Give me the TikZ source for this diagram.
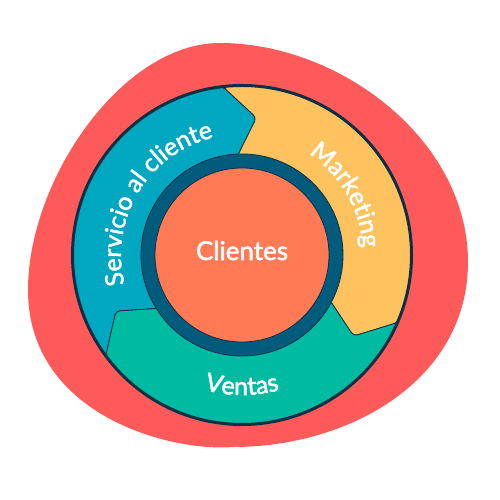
\documentclass[tikz,border=0pt]{standalone}
\usepackage{fontspec}
\setmainfont{Lato}
\newfontfamily\medfont{Lato}[FakeBold=2]
\usetikzlibrary{decorations.text}
\definecolor{blobred}{HTML}{FF5A5A}
\definecolor{segblue}{HTML}{00A7C0}
\definecolor{segyellow}{HTML}{FEC35F}
\definecolor{seggreen}{HTML}{00BBA2}
\definecolor{coreorange}{HTML}{FF7A55}
\definecolor{ringblue}{HTML}{005B7C}
\definecolor{navy}{HTML}{0B2F45}
\newcommand\segfont{\medfont\fontsize{25}{30}\selectfont}
\tikzset{
  segpiece/.style={draw=navy, line width=0.8pt, rounded corners=4pt},
  arctext/.style={decorate, decoration={text along path, text color=white, text align=center, text={|\segfont|#1}}}
}
\begin{document}
\begin{tikzpicture}[x=1pt,y=1pt]
\useasboundingbox (0,0) rectangle (500,500);
\fill[blobred] (220,457) .. controls (340,457) and (468,360) .. (468,238)
  .. controls (468,120) and (350,53) .. (233,53)
  .. controls (170,48) and (28,85) .. (28,210)
  .. controls (28,320) and (122,457) .. (220,457) -- cycle;
\begin{scope}[shift={(242,245)}]
\foreach \s/\col in {216.5/segblue, 96.5/segyellow, -23.5/seggreen} {
  \pgfmathsetmacro\e{\s-120}
  \pgfmathsetmacro\et{\e-12.5}
  \pgfmathsetmacro\ei{\e-2.5}
  \pgfmathsetmacro\si{\s-2.5}
  \pgfmathsetmacro\st{\s-12.5}
  \filldraw[segpiece, fill=\col] (\s:169.5) arc[start angle=\s, end angle=\e, radius=169.5]
    -- (\et:138) -- (\ei:95) arc[start angle=\ei, end angle=\si, radius=95]
    -- (\st:138) -- cycle;
}
\draw[navy, line width=3pt] (0,0) circle[radius=169.5];
\filldraw[fill=ringblue, draw=navy, line width=0.8pt] (0,0) circle[radius=101];
\filldraw[fill=coreorange, draw=navy, line width=0.8pt] (0,0) circle[radius=87];
\node[font=\medfont\fontsize{26}{30}\selectfont, text=white, anchor=base] (clientes) at (0,-5) {Clientes};
\path[arctext={Servicio al cliente}] (208.75:121) arc[start angle=208.75, end angle=88.75, radius=121];
\path[arctext={Marketing}] (90:121) arc[start angle=90, end angle=-30, radius=121];
\path[arctext={Ventas}] (-150:140) arc[start angle=-150, end angle=-30, radius=140];
\end{scope}
\end{tikzpicture}
\end{document}
